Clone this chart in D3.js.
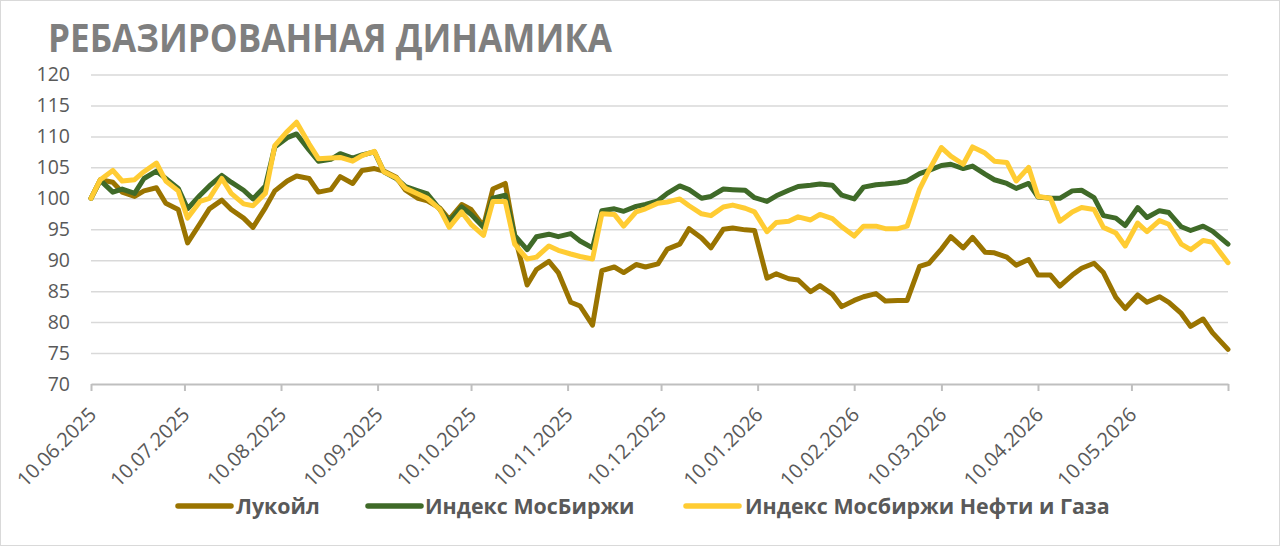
<!DOCTYPE html>
<html><head><meta charset="utf-8">
<script src="https://cdn.jsdelivr.net/npm/d3@7"></script>
<style>
html,body{margin:0;padding:0;background:#fff;}
svg{display:block;}
</style></head>
<body>
<svg id="chart" width="1280" height="546"></svg>
<script>
const title = "РЕБАЗИРОВАННАЯ ДИНАМИКА";
const seriesNames = ["Лукойл", "Индекс МосБиржи", "Индекс Мосбиржи Нефти и Газа"];
const seriesColors = ["#9A7400", "#3F6A28", "#FFCC33"];

const dates = [
"2025-06-10","2025-06-13","2025-06-17","2025-06-20","2025-06-24","2025-06-27",
"2025-07-01","2025-07-04","2025-07-08","2025-07-11","2025-07-15","2025-07-18","2025-07-22","2025-07-25","2025-07-29",
"2025-08-01","2025-08-05","2025-08-08","2025-08-12","2025-08-15","2025-08-19","2025-08-22","2025-08-26","2025-08-29",
"2025-09-02","2025-09-05","2025-09-09","2025-09-12","2025-09-16","2025-09-19","2025-09-23","2025-09-26","2025-09-30",
"2025-10-03","2025-10-07","2025-10-10","2025-10-14","2025-10-17","2025-10-21","2025-10-24","2025-10-28","2025-10-31",
"2025-11-04","2025-11-07","2025-11-11","2025-11-14","2025-11-18","2025-11-21","2025-11-25","2025-11-28",
"2025-12-02","2025-12-05","2025-12-09","2025-12-12","2025-12-16","2025-12-19","2025-12-23","2025-12-26","2025-12-30",
"2026-01-02","2026-01-06","2026-01-09","2026-01-13","2026-01-16","2026-01-20","2026-01-23","2026-01-27","2026-01-30",
"2026-02-03","2026-02-06","2026-02-10","2026-02-13","2026-02-17","2026-02-20","2026-02-24","2026-02-27",
"2026-03-03","2026-03-06","2026-03-10","2026-03-13","2026-03-17","2026-03-20","2026-03-24","2026-03-27","2026-03-31",
"2026-04-03","2026-04-07","2026-04-10","2026-04-14","2026-04-17","2026-04-21","2026-04-24","2026-04-28",
"2026-05-01","2026-05-05","2026-05-08","2026-05-12","2026-05-15","2026-05-19","2026-05-22","2026-05-26","2026-05-29",
"2026-06-02","2026-06-05","2026-06-10"
];

const lukoil = [
100,103,102.6,101,100.3,101.2,
101.7,99.2,98.2,92.8,95.9,98.3,99.7,98.2,96.8,
95.3,98.5,101.2,102.8,103.6,103.2,101,101.4,103.5,
102.4,104.5,104.8,104.4,103.4,101.3,100,99.6,98.4,
96.6,99,98.2,95.5,101.5,102.4,94,86,88.5,
89.8,88,83.2,82.6,79.5,88.3,88.9,88,
89.3,88.9,89.4,91.8,92.6,95.1,93.6,92,95,
95.2,94.9,94.8,87.1,87.8,87,86.8,84.9,85.9,
84.5,82.5,83.5,84.1,84.6,83.4,83.5,83.5,
89,89.5,91.8,93.8,92,93.7,91.3,91.2,90.5,
89.2,90.1,87.6,87.6,85.8,87.6,88.7,89.5,
88,84,82.2,84.4,83.2,84.1,83.2,81.4,79.3,
80.5,78.3,75.6
];

const moex = [
100,102.9,101,101.5,100.8,103.2,
104.4,103.2,101.6,98.3,100.5,102,103.7,102.6,101.3,
99.9,102,108.3,109.8,110.4,107.8,106,106.3,107.2,
106.5,107,107.5,104.3,103.2,101.9,101.2,100.7,98.2,
96.2,98.6,97.4,95.3,100,100.5,94,91.7,93.8,
94.2,93.8,94.3,93.1,92,98,98.3,97.9,
98.7,99,99.6,100.8,102,101.4,100,100.3,101.5,
101.4,101.3,100.1,99.5,100.4,101.3,101.9,102.1,102.3,
102.1,100.5,99.9,101.8,102.2,102.3,102.5,102.8,
104,104.5,105.3,105.5,104.8,105.2,103.9,103,102.4,
101.6,102.4,100.2,100,100,101.2,101.3,100.1,
97.2,96.8,95.6,98.5,96.9,98,97.7,95.4,94.8,
95.5,94.7,92.6
];

const oilgas = [
100,103,104.5,102.8,103,104.3,
105.7,102.8,101.2,96.8,99.5,100,103.2,100.8,99.1,
98.8,100.8,108.5,110.8,112.3,108.8,106.4,106.5,106.6,
106,106.9,107.6,104.3,103.3,101.6,100.7,100,98.2,
95.3,97.8,95.8,94,99.5,99.5,92.6,90.2,90.5,
92.3,91.6,91,90.6,90.2,97.5,97.4,95.5,
97.8,98.3,99.2,99.4,99.9,98.8,97.5,97.2,98.6,
98.9,98.4,97.8,94.6,96.1,96.3,97,96.5,97.4,
96.7,95.4,93.9,95.5,95.5,95.1,95.1,95.5,
101.5,104.5,108.2,106.8,105.5,108.3,107.3,106,105.8,
102.8,105,100.3,100,96.3,97.8,98.5,98.2,
95.3,94.4,92.3,96,94.6,96.4,95.8,92.6,91.7,
93.2,92.9,89.6
];

const yTicks = [70,75,80,85,90,95,100,105,110,115,120];
const xTickDates = ["2025-06-10","2025-07-10","2025-08-10","2025-09-10","2025-10-10","2025-11-10","2025-12-10",
  "2026-01-10","2026-02-10","2026-03-10","2026-04-10","2026-05-10","2026-06-10"];
const xTickLabels = ["10.06.2025","10.07.2025","10.08.2025","10.09.2025","10.10.2025","10.11.2025","10.12.2025",
  "10.01.2026","10.02.2026","10.03.2026","10.04.2026","10.05.2026",""];

const parse = d3.timeParse("%Y-%m-%d");
const svg = d3.select("#chart");
const W = 1280, H = 546;
const mLeft = 91, mRight = 1228, mTop = 74.5, mBottom = 384;
const font = "'Open Sans', 'Noto Sans', sans-serif";

svg.append("rect").attr("x",0.5).attr("y",0.5).attr("width",W-1).attr("height",H-1)
  .attr("fill","#fff").attr("stroke","#D9D9D9").attr("stroke-width",1);

const x = d3.scaleTime().domain([parse(xTickDates[0]), parse(xTickDates[xTickDates.length-1])]).range([mLeft, mRight]);
const y = d3.scaleLinear().domain([70,120]).range([mBottom, mTop]);

// title
svg.append("text").attr("x",48).attr("y",52)
  .attr("font-family",font).attr("font-weight",700).attr("font-size",40)
  .attr("fill","#7F7F7F").attr("textLength",564).attr("lengthAdjust","spacingAndGlyphs")
  .text(title);

// gridlines
const yAxis = d3.axisLeft(y).tickValues(yTicks).tickSize(-(mRight-mLeft)).tickPadding(21).tickFormat(d3.format("d"));
const gy = svg.append("g").attr("transform",`translate(${mLeft},0)`).call(yAxis);
gy.select(".domain").remove();
gy.selectAll(".tick line").attr("stroke","#D9D9D9").attr("stroke-width",1.5);
gy.selectAll(".tick").filter(d=>d===70).select("line").remove();
gy.selectAll(".tick text").attr("font-family",font).attr("font-size",19.5).attr("fill","#595959");

// x axis
const xAxis = d3.axisBottom(x).tickValues(xTickDates.map(parse)).tickSize(7).tickSizeOuter(0)
  .tickFormat((d,i)=>xTickLabels[i]);
const gx = svg.append("g").attr("transform",`translate(0,${mBottom})`).call(xAxis);
gx.select(".domain").attr("stroke","#BFBFBF").attr("stroke-width",2);
gx.selectAll(".tick line").attr("stroke","#BFBFBF").attr("stroke-width",2);
gx.selectAll(".tick text")
  .attr("font-family",font).attr("font-size",20).attr("fill","#595959")
  .attr("text-anchor","end").attr("dy",null).attr("y",0)
  .attr("transform","translate(6,32) rotate(-45)");

// lines
const allSeries = [lukoil, moex, oilgas];
const line = d3.line().x((d,i)=>x(parse(dates[i]))).y(d=>y(d)).curve(d3.curveLinear);
allSeries.forEach((s,k)=>{
  svg.append("path").datum(s).attr("d",line)
    .attr("fill","none").attr("stroke",seriesColors[k]).attr("stroke-width",5)
    .attr("stroke-linejoin","round").attr("stroke-linecap","round");
});

// legend
const legendItems = [
  {x:178, tx:236},
  {x:368, tx:425},
  {x:686, tx:745}
];
legendItems.forEach((it,k)=>{
  svg.append("line").attr("x1",it.x).attr("x2",it.x+53).attr("y1",506).attr("y2",506)
    .attr("stroke",seriesColors[k]).attr("stroke-width",5.5).attr("stroke-linecap","round");
  svg.append("text").attr("x",it.tx).attr("y",513.5)
    .attr("font-family",font).attr("font-weight",700).attr("font-size",21.4).attr("fill","#595959")
    .text(seriesNames[k]);
});
</script>
</body></html>
